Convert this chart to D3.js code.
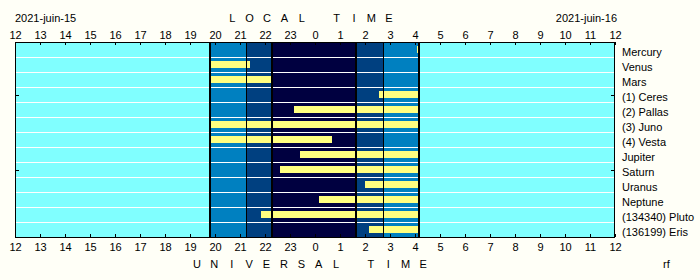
<!DOCTYPE html>
<html>
<head>
<meta charset="utf-8">
<script src="https://cdn.jsdelivr.net/npm/d3@7"></script>
<style>
  html, body { margin: 0; padding: 0; background: #FFFFF7; }
  svg { display: block; }
  text { font-family: "Liberation Sans", Arial, sans-serif; font-size: 11px; fill: #000; }
</style>
</head>
<body>
<svg id="chart" width="700" height="280"></svg>
<script>
// ---- data ----
const objects = ["Mercury", "Venus", "Mars", "(1) Ceres", "(2) Pallas", "(3) Juno", "(4) Vesta",
  "Jupiter", "Saturn", "Uranus", "Neptune", "(134340) Pluto", "(136199) Eris"];
// visible (above horizon while sky is dark) interval, local hours (24+ = next day)
const visStart = [28.08, 19.80, 19.80, 26.56, 23.16, 19.80, 19.80, 23.40, 22.60, 26.00, 24.16, 21.84, 26.16];
const visEnd   = [28.17, 21.40, 22.28, 28.17, 28.17, 28.17, 24.68, 28.17, 28.17, 28.17, 28.17, 28.17, 28.17];
// twilight boundaries (local hours): sunset, civil end, nautical end, nautical start, civil start, sunrise
const twilight = [19.80, 21.24, 22.29, 25.64, 26.73, 28.17];
const hourTicks = d3.range(12, 37);
const dateLeft = "2021-juin-15";
const dateRight = "2021-juin-16";
const topTitle = "LOCAL TIME";
const bottomTitle = "UNIVERSAL TIME";
const sideTickRows = [3.53, 8.53];

// ---- layout ----
const L = 15, R = 615, T = 42, B = 237;
const svg = d3.select("#chart");
const x = d3.scaleLinear().domain([12, 36]).range([L, R]);
const y = d3.scaleLinear().domain([0, objects.length]).range([T, B]);

// sky zones
const zoneEdges = [12, ...twilight, 36];
const zoneColors = ["#80FFFF", "#0080C0", "#004080", "#000040", "#004080", "#0080C0", "#80FFFF"];
svg.append("g").selectAll("rect").data(d3.range(zoneEdges.length - 1)).join("rect")
  .attr("x", i => x(zoneEdges[i]))
  .attr("y", T)
  .attr("width", i => x(zoneEdges[i + 1]) - x(zoneEdges[i]))
  .attr("height", B - T)
  .attr("fill", i => zoneColors[i]);

// row separators
svg.append("g").selectAll("line").data(d3.range(1, objects.length)).join("line")
  .attr("x1", L).attr("x2", R)
  .attr("y1", i => Math.round(y(i)) + 0.5).attr("y2", i => Math.round(y(i)) + 0.5)
  .attr("stroke", "#FFFFFF").attr("stroke-width", 1);

// visibility bars
svg.append("g").selectAll("rect").data(objects).join("rect")
  .attr("x", (d, i) => x(visStart[i]))
  .attr("y", (d, i) => Math.round(y(i)) + 4)
  .attr("width", (d, i) => x(visEnd[i]) - x(visStart[i]))
  .attr("height", 7)
  .attr("fill", "#FFFF80");

// twilight lines
const lineW = [2, 1, 2, 2, 1, 2];
svg.append("g").selectAll("line").data(twilight).join("line")
  .attr("x1", (d, i) => lineW[i] === 1 ? Math.round(x(d)) + 0.5 : Math.round(x(d)))
  .attr("x2", (d, i) => lineW[i] === 1 ? Math.round(x(d)) + 0.5 : Math.round(x(d)))
  .attr("y1", T).attr("y2", B)
  .attr("stroke", "#000").attr("stroke-width", (d, i) => lineW[i]);

// frame
svg.append("rect").attr("x", L + 0.5).attr("y", T + 0.5)
  .attr("width", R - L - 1).attr("height", B - T)
  .attr("fill", "none").attr("stroke", "#000");

// axes
const fmt = d => String(d % 24);
const topAxis = d3.axisTop(x).tickValues(hourTicks).tickFormat(fmt).tickSizeInner(-3).tickSizeOuter(0).tickPadding(3.5);
const botAxis = d3.axisBottom(x).tickValues(hourTicks).tickFormat(fmt).tickSizeInner(-3).tickSizeOuter(0).tickPadding(6);
const gt = svg.append("g").attr("transform", `translate(0,${T})`).call(topAxis);
const gb = svg.append("g").attr("transform", `translate(0,${B})`).call(botAxis);
[gt, gb].forEach(g => {
  g.select(".domain").remove();
  g.selectAll("line").attr("stroke", "#000");
  g.attr("font-family", null).attr("font-size", null);
});

// side ticks
sideTickRows.forEach(r => {
  const yy = Math.round(y(r)) + 0.5;
  svg.append("line").attr("x1", L).attr("x2", L + 4).attr("y1", yy).attr("y2", yy).attr("stroke", "#000");
  svg.append("line").attr("x1", R - 4).attr("x2", R).attr("y1", yy).attr("y2", yy).attr("stroke", "#000");
});

// row labels
svg.append("g").selectAll("text").data(objects).join("text")
  .attr("x", 622)
  .attr("y", (d, i) => y(i) + 13.5)
  .text(d => d);

// dates
svg.append("text").attr("x", L).attr("y", 22).text(dateLeft);
svg.append("text").attr("x", 617).attr("y", 22).attr("text-anchor", "end").text(dateRight);

// spaced titles
function spaced(str, cx, baseline) {
  const step = 17.4;
  const t = svg.append("text").attr("y", baseline);
  const n = str.length;
  str.split("").forEach((ch, i) => {
    t.append("tspan").attr("x", cx + (i - (n - 1) / 2) * step).attr("text-anchor", "middle").text(ch);
  });
}
spaced(topTitle, 310.5, 22);
spaced(bottomTitle, 310, 268);

svg.append("text").attr("x", 663).attr("y", 268).text("rf");
</script>
</body>
</html>
